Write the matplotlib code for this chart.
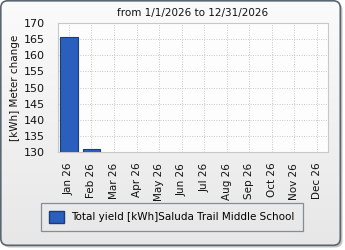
import numpy as np
import matplotlib
matplotlib.use("Agg")
import matplotlib.pyplot as plt
from matplotlib.patches import FancyBboxPatch

months = ["Jan 26", "Feb 26", "Mar 26", "Apr 26", "May 26", "Jun 26",
          "Jul 26", "Aug 26", "Sep 26", "Oct 26", "Nov 26", "Dec 26"]
values = [165.7, 130.8, 0, 0, 0, 0, 0, 0, 0, 0, 0, 0]
y_ticks = [130, 135, 140, 145, 150, 155, 160, 165, 170]
title = "from 1/1/2026 to 12/31/2026"
y_label = "[kWh] Meter change"
series_name = "Total yield [kWh]Saluda Trail Middle School"

plt.rcParams['font.family'] = ['DejaVu Sans']
W, H = 345, 250
fig = plt.figure(figsize=(W / 100, H / 100), dpi=100)
fig.patch.set_facecolor('white')

# background panel with rounded border and gradient
bg = fig.add_axes([0, 0, 1, 1])
bg.set_xlim(0, W)
bg.set_ylim(H, 0)
bg.axis('off')
shadow = FancyBboxPatch((3, 3), W - 5.5, H - 5.5, boxstyle="round,pad=0,rounding_size=7",
                        facecolor='#c4c4c4', edgecolor='none', zorder=0)
bg.add_patch(shadow)
frame = FancyBboxPatch((0.8, 0.8), W - 5.5, H - 5.5, boxstyle="round,pad=0,rounding_size=7",
                       facecolor='none', edgecolor='#5c6670', linewidth=1.2, zorder=3)
grad = np.linspace(0, 1, 256).reshape(-1, 1)
im = bg.imshow(grad, extent=[0.8, W - 4.7, H - 4.7, 0.8],
               cmap=matplotlib.colors.LinearSegmentedColormap.from_list('g', ['#fbfbfb', '#e7e7e7']),
               aspect='auto', zorder=1)
clip = FancyBboxPatch((0.8, 0.8), W - 5.5, H - 5.5, boxstyle="round,pad=0,rounding_size=7",
                      facecolor='none', edgecolor='none', transform=bg.transData)
bg.add_patch(clip)
im.set_clip_path(clip)
bg.add_patch(frame)

ax = fig.add_axes([57.7 / W, 1 - 151.7 / H, (328 - 57.7) / W, (151.7 - 23.3) / H])
ax.set_facecolor('#fdfdfd')
x = np.arange(len(months))
ax.bar(x, values, width=0.77, color='#2a5fbe', edgecolor='#1c3c78', linewidth=0.8, zorder=3)
ax.set_xlim(-0.5, len(months) - 0.5)
ax.set_ylim(130, 170)
ax.set_yticks(y_ticks)
ax.set_xticks(x)
ax.set_xticklabels(months, rotation=90, fontsize=7.5, color='#111111')
ax.tick_params(axis='y', labelsize=8, colors='#111111', length=0, pad=9)
ax.tick_params(axis='x', length=0, pad=8)
ax.grid(True, color='#c8c8c8', linestyle=(0, (1, 1.5)), linewidth=0.7, zorder=0)
for s in ax.spines.values():
    s.set_color('#c8c8c8')
    s.set_linewidth(0.8)
ax.set_title(title, fontsize=7.5, color='#111111', pad=5)
ax.set_ylabel(y_label, fontsize=7.5, color='#111111', labelpad=3)

# legend
handles = [matplotlib.patches.Patch(facecolor='#2a5fbe', edgecolor='#1c3c78', label=series_name)]
leg = fig.legend(handles=handles, loc='center', bbox_to_anchor=(172 / W, 1 - 217 / H),
                 fontsize=7.5, frameon=True, fancybox=False, handlelength=1.4, handleheight=1.4,
                 borderpad=0.8, handletextpad=0.7)
leg.get_frame().set_edgecolor('#6a7682')
leg.get_frame().set_facecolor('none')
leg.get_frame().set_linewidth(0.9)

fig.savefig('out.png', dpi=100)
